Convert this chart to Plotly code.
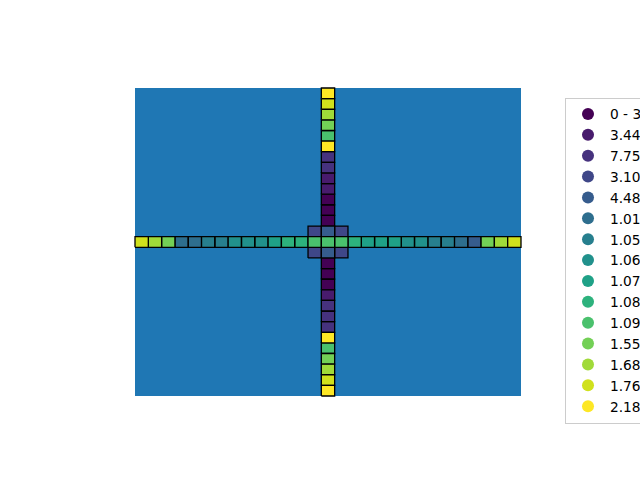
import plotly.graph_objects as go

# ---- data -------------------------------------------------------------
grid_size = 29          # cells per side
center = 14             # index of the central row / column

# class index of every cell of the central column, top to bottom
column_classes = [14, 13, 12, 11, 10, 14, 2, 2, 1, 1, 0, 0, 0,
                  4, 10, 4,
                  0, 0, 0, 1, 2, 2, 2, 14, 10, 11, 12, 13, 14]
# class index of every cell of the central row, left to right
row_classes = [13, 12, 11, 5, 5, 6, 6, 7, 7, 7, 8, 9, 9,
               10, 10, 10,
               9, 8, 8, 8, 7, 7, 6, 6, 5, 4, 11, 12, 13]
# the four corner cells of the 3x3 block around the centre
corner_offsets = [(-1, -1), (-1, 1), (1, -1), (1, 1)]
corner_classes = [3, 3, 3, 3]

class_labels = [
    "0 - 3.44e-06", "3.44e-06 - 7.75e-06", "7.75e-06 - 3.10e-05",
    "3.10e-05 - 4.48e-05", "4.48e-05 - 1.01e-04", "1.01e-04 - 1.05e-04",
    "1.05e-04 - 1.06e-04", "1.06e-04 - 1.07e-04", "1.07e-04 - 1.08e-04",
    "1.08e-04 - 1.09e-04", "1.09e-04 - 1.55e-04", "1.55e-04 - 1.68e-04",
    "1.68e-04 - 1.76e-04", "1.76e-04 - 2.18e-04", "2.18e-04 - 2.56e-04",
]
class_colors = [
    "#440154", "#481b6d", "#46327e", "#3f4788", "#365c8d",
    "#2e6e8e", "#277f8e", "#21918c", "#1fa187", "#2db27d",
    "#4ac16d", "#73d056", "#a0da39", "#d0e11c", "#fde725",
]
background_color = "#1f77b4"

# ---- build cell map -----------------------------------------------------
cells = {}
for r, k in enumerate(column_classes):
    cells[(r, center)] = k
for c, k in enumerate(row_classes):
    cells[(center, c)] = k
for (dr, dc), k in zip(corner_offsets, corner_classes):
    cells[(center + dr, center + dc)] = k

fig = go.Figure()

# background polygon covering the whole grid
fig.add_trace(go.Scatter(
    x=[0, grid_size, grid_size, 0, 0], y=[0, 0, grid_size, grid_size, 0],
    mode="lines", fill="toself", fillcolor=background_color,
    line=dict(width=0), showlegend=False, hoverinfo="skip"))

for k, (color, label) in enumerate(zip(class_colors, class_labels)):
    xs, ys = [], []
    for (r, c), kk in cells.items():
        if kk != k:
            continue
        y0 = grid_size - 1 - r
        xs += [c, c + 1, c + 1, c, c, None]
        ys += [y0, y0, y0 + 1, y0 + 1, y0, None]
    if xs:
        fig.add_trace(go.Scatter(
            x=xs, y=ys, mode="lines", fill="toself", fillcolor=color,
            line=dict(color="black", width=1.3), showlegend=False,
            hoverinfo="skip"))

for color, label in zip(class_colors, class_labels):
    fig.add_trace(go.Scatter(
        x=[None], y=[None], mode="markers", name=label,
        marker=dict(symbol="circle", size=12, color=color)))

px_x = 386 / grid_size
px_y = 308 / grid_size
fig.update_xaxes(range=[-1 / px_x, grid_size + 1 / px_x], visible=False)
fig.update_yaxes(range=[-1 / px_y, grid_size + 1 / px_y], visible=False)

fig.update_layout(
    width=640, height=480,
    margin=dict(l=134, r=118, t=87, b=83, autoexpand=False),
    paper_bgcolor="white", plot_bgcolor="white",
    font=dict(family="DejaVu Sans", color="black"),
    legend=dict(
        x=(565 - 134) / 388, y=(397 - 97.5) / 310,
        xanchor="left", yanchor="top",
        bordercolor="#cccccc", borderwidth=1, bgcolor="white",
        font=dict(size=13.75, family="DejaVu Sans", color="black"),
        itemsizing="constant", traceorder="normal", itemwidth=34,
        maxheight=400),
)

fig.write_html("out.html", config={"displayModeBar": False},
               post_script="document.body.style.margin='0';"
                           "document.body.style.overflow='hidden';")
